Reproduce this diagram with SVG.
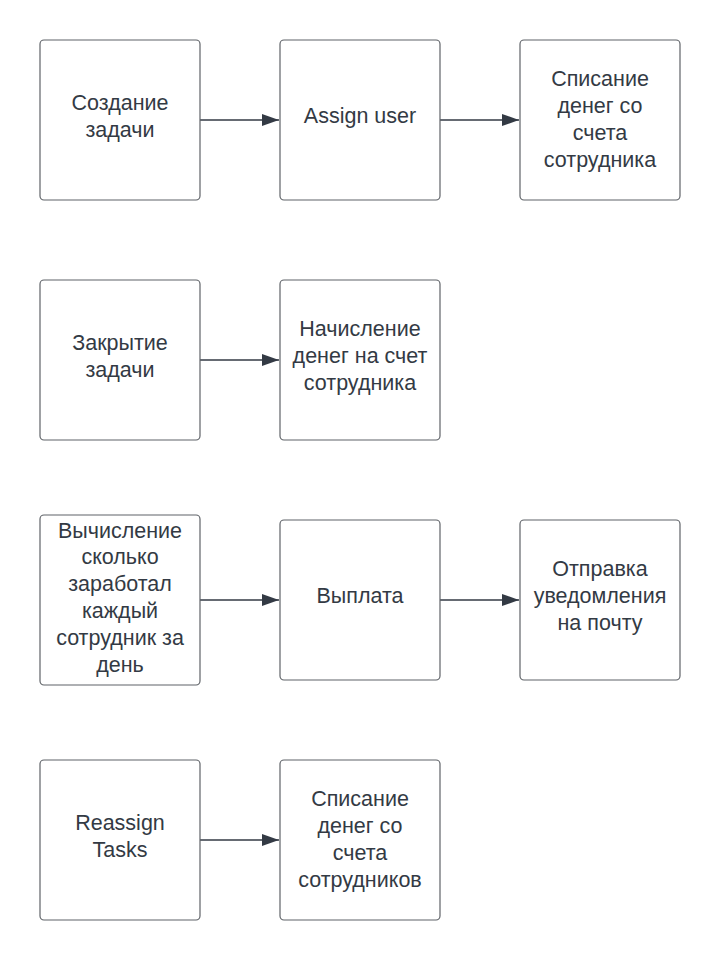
<svg xmlns="http://www.w3.org/2000/svg" width="720" height="960" viewBox="0 0 720 960">
<style>
.box{fill:#ffffff;stroke:#5f6368;stroke-width:1.2}
.t{font-family:"Liberation Sans",Arial,sans-serif;font-size:21.5px;fill:#333a44;text-anchor:middle}
.c{stroke:#333a44;stroke-width:1.3;fill:none}
</style>
<defs>
<marker id="ah" markerWidth="18" markerHeight="12" refX="17" refY="6" orient="auto" markerUnits="userSpaceOnUse">
<path d="M0,0 L17,6 L0,12 Z" fill="#333a44"/>
</marker>
</defs>
<rect width="720" height="960" fill="#ffffff"/>
<g id="connectors">
<path class="c" d="M200,120 H279" marker-end="url(#ah)"/>
<path class="c" d="M440,120 H519" marker-end="url(#ah)"/>
<path class="c" d="M200,360 H279" marker-end="url(#ah)"/>
<path class="c" d="M200,600 H279" marker-end="url(#ah)"/>
<path class="c" d="M440,600 H519" marker-end="url(#ah)"/>
<path class="c" d="M200,840 H279" marker-end="url(#ah)"/>
</g>
<g id="n1"><rect class="box" x="40" y="40" width="160" height="160" rx="4"/>
<text class="t"><tspan x="120" y="110">Создание</tspan><tspan x="120" y="137">задачи</tspan></text></g>
<g id="n2"><rect class="box" x="280" y="40" width="160" height="160" rx="4"/>
<text class="t"><tspan x="360" y="123">Assign user</tspan></text></g>
<g id="n3"><rect class="box" x="520" y="40" width="160" height="160" rx="4"/>
<text class="t"><tspan x="600" y="86">Списание</tspan><tspan x="600" y="113">денег со</tspan><tspan x="600" y="140">счета</tspan><tspan x="600" y="167">сотрудника</tspan></text></g>
<g id="n4"><rect class="box" x="40" y="280" width="160" height="160" rx="4"/>
<text class="t"><tspan x="120" y="350">Закрытие</tspan><tspan x="120" y="377">задачи</tspan></text></g>
<g id="n5"><rect class="box" x="280" y="280" width="160" height="160" rx="4"/>
<text class="t"><tspan x="360" y="336">Начисление</tspan><tspan x="360" y="363">денег на счет</tspan><tspan x="360" y="390">сотрудника</tspan></text></g>
<g id="n6"><rect class="box" x="40" y="515" width="160" height="170" rx="4"/>
<text class="t"><tspan x="120" y="538">Вычисление</tspan><tspan x="120" y="564">сколько</tspan><tspan x="120" y="591">заработал</tspan><tspan x="120" y="618">каждый</tspan><tspan x="120" y="645">сотрудник за</tspan><tspan x="120" y="672">день</tspan></text></g>
<g id="n7"><rect class="box" x="280" y="520" width="160" height="160" rx="4"/>
<text class="t"><tspan x="360" y="603">Выплата</tspan></text></g>
<g id="n8"><rect class="box" x="520" y="520" width="160" height="160" rx="4"/>
<text class="t"><tspan x="600" y="576">Отправка</tspan><tspan x="600" y="603">уведомления</tspan><tspan x="600" y="630">на почту</tspan></text></g>
<g id="n9"><rect class="box" x="40" y="760" width="160" height="160" rx="4"/>
<text class="t"><tspan x="120" y="830">Reassign</tspan><tspan x="120" y="857">Tasks</tspan></text></g>
<g id="n10"><rect class="box" x="280" y="760" width="160" height="160" rx="4"/>
<text class="t"><tspan x="360" y="806">Списание</tspan><tspan x="360" y="833">денег со</tspan><tspan x="360" y="860">счета</tspan><tspan x="360" y="887">сотрудников</tspan></text></g>
</svg>
